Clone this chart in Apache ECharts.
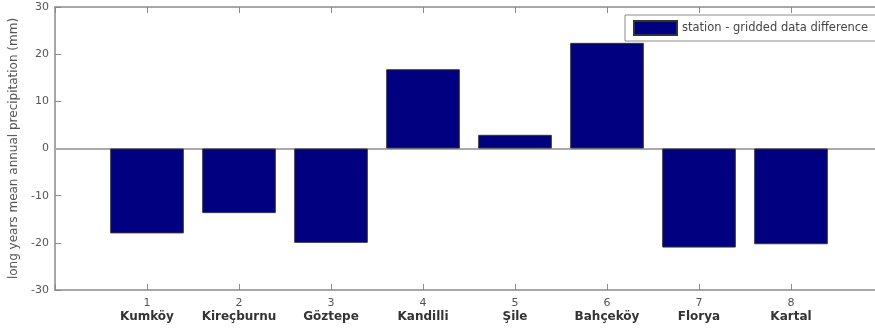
<!DOCTYPE html>
<html><head><meta charset="utf-8">
<script src="https://cdn.jsdelivr.net/npm/echarts@6/dist/echarts.min.js"></script>
<style>html,body{margin:0;padding:0;background:#fff}#c{width:875px;height:331px}</style>
</head><body><div id="c"></div>
<script>
const stationNumbers = [1, 2, 3, 4, 5, 6, 7, 8];
const stationNames = ['Kumköy', 'Kireçburnu', 'Göztepe', 'Kandilli', 'Şile', 'Bahçeköy', 'Florya', 'Kartal'];
const differences = [-18.0, -13.7, -20.0, 16.8, 2.9, 22.4, -21.0, -20.3];
const yTicks = [-30, -20, -10, 0, 10, 20, 30];
const seriesName = 'station - gridded data difference';
const yAxisTitle = 'long years mean annual precipitation (mm)';

const chart = echarts.init(document.getElementById('c'), null, {renderer: 'canvas'});
const axisGray = '#8a8a8a';
const font = 'DejaVu Sans, Verdana, sans-serif';
const barData = stationNumbers.map((n, i) => [n, differences[i]]);

chart.setOption({
  animation: false,
  backgroundColor: '#fff',
  grid: {left: 55, width: 828, top: 7, height: 283, containLabel: false, outerBoundsMode: 'none'},
  legend: {
    data: [seriesName], left: 625, top: 15,
    orient: 'horizontal',
    backgroundColor: '#fff', borderColor: '#8a8a8a', borderWidth: 1,
    padding: [5, 20, 5, 8],
    itemWidth: 43, itemHeight: 14, itemGap: 5,
    textStyle: {fontFamily: font, fontSize: 11.5, color: '#444'},
    icon: 'rect'
  },
  xAxis: [{
    type: 'value', min: 0, max: 9, interval: 1, position: 'bottom',
    axisLine: {show: true, onZero: false, lineStyle: {color: axisGray, width: 1.5}},
    axisTick: {show: true, inside: true, length: 6, lineStyle: {color: axisGray}},
    splitLine: {show: false},
    axisLabel: {
      margin: 7,
      formatter: function (v) {
        const i = stationNumbers.indexOf(v);
        if (i < 0) return '';
        return '{n|' + v + '}\n{b|' + stationNames[i] + '}';
      },
      rich: {
        n: {fontFamily: font, fontSize: 11, color: '#555', lineHeight: 13},
        b: {fontFamily: font, fontSize: 12, fontWeight: 'bold', color: '#333', lineHeight: 14}
      }
    }
  }, {
    type: 'value', min: 0, max: 9, interval: 1, position: 'top',
    axisLine: {show: true, onZero: false, lineStyle: {color: axisGray, width: 1.5}},
    axisTick: {show: true, inside: true, length: 6, lineStyle: {color: axisGray}},
    axisLabel: {show: false}, splitLine: {show: false}
  }],
  yAxis: [{
    type: 'value', min: yTicks[0], max: yTicks[yTicks.length - 1], interval: 10,
    name: yAxisTitle, nameLocation: 'middle', nameGap: 31, nameRotate: 90,
    nameTextStyle: {fontFamily: font, fontSize: 12, color: '#555'},
    axisLine: {show: true, onZero: false, lineStyle: {color: axisGray, width: 1.5}},
    axisTick: {show: true, inside: true, length: 6, lineStyle: {color: axisGray}},
    splitLine: {show: false},
    axisLabel: {margin: 6, fontFamily: font, fontSize: 11, color: '#555'}
  }, {
    type: 'value', min: yTicks[0], max: yTicks[yTicks.length - 1], interval: 10, position: 'right',
    axisLine: {show: true, onZero: false, lineStyle: {color: axisGray, width: 1.5}},
    axisTick: {show: true, inside: true, length: 6, lineStyle: {color: axisGray}},
    axisLabel: {show: false}, splitLine: {show: false}
  }],
  series: [{
    name: seriesName, type: 'bar', xAxisIndex: 0, yAxisIndex: 0,
    data: barData, barWidth: '80%',
    itemStyle: {color: '#000080', borderColor: '#333', borderWidth: 1},
    markLine: {
      silent: true, symbol: ['none', 'none'], label: {show: false},
      lineStyle: {color: '#aaa', width: 2, type: 'solid'},
      data: [{yAxis: 0}],
      z: 1
    }
  }]
});
</script></body></html>
